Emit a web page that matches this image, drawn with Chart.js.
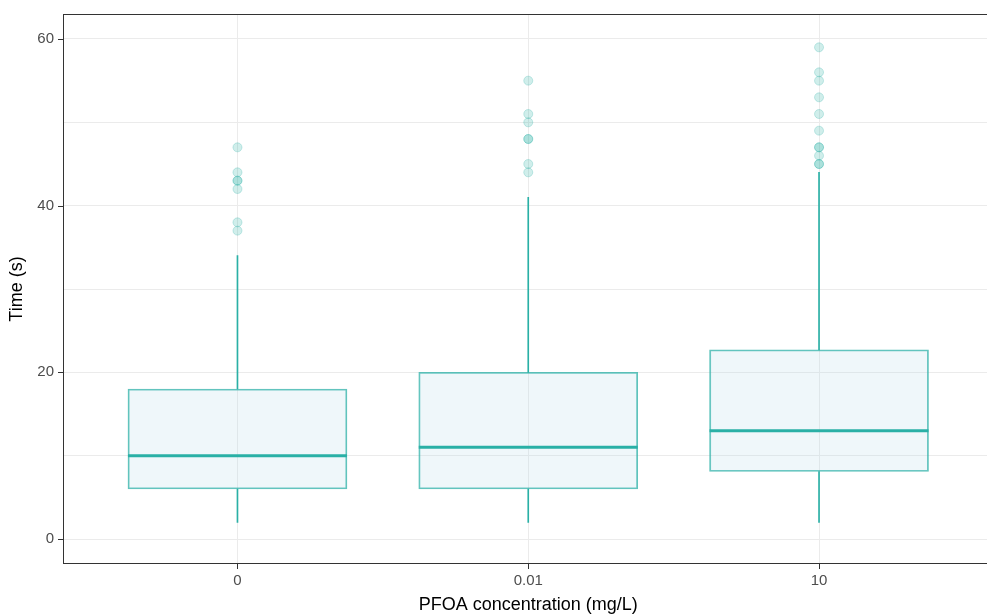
<!DOCTYPE html>
<html>
<head>
<meta charset="utf-8">
<script src="https://cdn.jsdelivr.net/npm/chart.js@4/dist/chart.umd.min.js"></script>
<style>
  html, body { margin: 0; padding: 0; background: #fff; overflow: hidden; }
  #wrap { width: 999px; height: 614px; }
</style>
</head>
<body>
<div id="wrap"><canvas id="box"></canvas></div>
<script>
const categories = ['0', '0.01', '10']

const whiskerLow = [2, 2, 2]
const q1 = [6, 6, 8.1]
const medians = [10, 11, 13]
const q3 = [18, 20, 22.7]
const whiskerHigh = [34, 41, 44]

const yLabels = [0, 20, 40, 60]

const outliers = [
  [47, 44, 43, 43, 42, 38, 37],
  [55, 51, 50, 48, 48, 45, 44],
  [59, 56, 55, 53, 51, 49, 47, 47, 46, 45, 45]
]

const teal = '#2ab0a6'

const outlierPoints = []
outliers.forEach((list, i) => {
  list.forEach(v => outlierPoints.push({ x: i, y: v }))
})

// median line, panel border, tick marks
const boxExtras = {
  id: 'boxExtras',
  afterDatasetsDraw(chart) {
    const ctx = chart.ctx
    const y = chart.scales.y
    const meta = chart.getDatasetMeta(1)
    ctx.save()
    ctx.strokeStyle = teal
    ctx.lineWidth = 3
    meta.data.forEach((bar, i) => {
      const py = y.getPixelForValue(medians[i])
      ctx.beginPath()
      ctx.moveTo(bar.x - bar.width / 2, py)
      ctx.lineTo(bar.x + bar.width / 2, py)
      ctx.stroke()
    })
    ctx.restore()
  },
  afterDraw(chart) {
    const ctx = chart.ctx
    const x = chart.scales.x
    const y = chart.scales.y
    const a = chart.chartArea
    ctx.save()
    ctx.strokeStyle = '#333333'
    ctx.lineWidth = 1
    ctx.strokeRect(a.left + 0.5, a.top + 0.5, a.right - a.left - 1, a.bottom - a.top - 1)
    ctx.beginPath()
    yLabels.forEach(v => {
      const py = Math.round(y.getPixelForValue(v)) + 0.5
      ctx.moveTo(a.left - 5, py)
      ctx.lineTo(a.left, py)
    })
    categories.forEach((c, i) => {
      const px = Math.round(x.getPixelForValue(i)) + 0.5
      ctx.moveTo(px, a.bottom)
      ctx.lineTo(px, a.bottom + 5)
    })
    ctx.stroke()
    ctx.restore()
  }
}

const cfg = {
  type: 'bar',
  data: {
    datasets: [{
      type: 'scatter',
      data: outlierPoints,
      pointRadius: 4.5,
      backgroundColor: 'rgba(42, 176, 166, 0.22)',
      borderColor: 'rgba(42, 176, 166, 0.25)',
      borderWidth: 1
    }, {
      data: categories.map((c, i) => ({ x: i, y: [q1[i], q3[i]] })),
      backgroundColor: 'rgba(173, 216, 230, 0.2)',
      borderColor: 'rgba(42, 176, 166, 0.75)',
      borderWidth: 1.2,
      borderSkipped: false,
      barThickness: 219,
      grouped: false
    }, {
      data: categories.map((c, i) => ({ x: i, y: [whiskerLow[i], q1[i]] })),
      backgroundColor: teal,
      borderWidth: 0,
      barThickness: 1,
      grouped: false
    }, {
      data: categories.map((c, i) => ({ x: i, y: [q3[i], whiskerHigh[i]] })),
      backgroundColor: teal,
      borderWidth: 0,
      barThickness: 1,
      grouped: false
    }]
  },
  options: {
    responsive: true,
    maintainAspectRatio: false,
    animation: false,
    layout: { padding: { top: 13, right: 1, left: 0, bottom: 0 } },
    plugins: { legend: { display: false }, tooltip: { enabled: false } },
    scales: {
      x: {
        type: 'linear',
        min: -0.6,
        max: 2.6,
        offset: false,
        afterFit: s => { s.height = 50 },
        ticks: {
          stepSize: 1,
          includeBounds: false,
          autoSkip: false,
          maxRotation: 0,
          padding: 4,
          color: '#4d4d4d',
          font: { family: 'Arial, "Liberation Sans"', size: 15 },
          callback: v => categories[v] !== undefined ? categories[v] : ''
        },
        grid: { offset: false, color: '#ebebeb', tickColor: 'rgba(0,0,0,0)', tickLength: 4 },
        border: { display: false },
        title: {
          display: true,
          text: 'PFOA concentration (mg/L)',
          color: '#000',
          padding: { top: 0, bottom: -2 },
          font: { family: 'Arial, "Liberation Sans"', size: 18 }
        }
      },
      y: {
        min: -3,
        max: 63,
        afterFit: s => { s.width = 63 },
        ticks: {
          stepSize: 10,
          includeBounds: false,
          padding: 5,
          color: '#4d4d4d',
          font: { family: 'Arial, "Liberation Sans"', size: 15 },
          callback: v => yLabels.includes(v) ? v : ''
        },
        grid: { color: '#ebebeb', tickLength: 4, tickColor: 'rgba(0,0,0,0)' },
        border: { display: false },
        title: {
          display: true,
          text: 'Time (s)',
          color: '#000',
          padding: { top: 6, bottom: 0 },
          font: { family: 'Arial, "Liberation Sans"', size: 18 }
        }
      }
    }
  },
  plugins: [boxExtras]
}

const boxChart = new Chart(document.getElementById('box'), cfg)
</script>
</body>
</html>
